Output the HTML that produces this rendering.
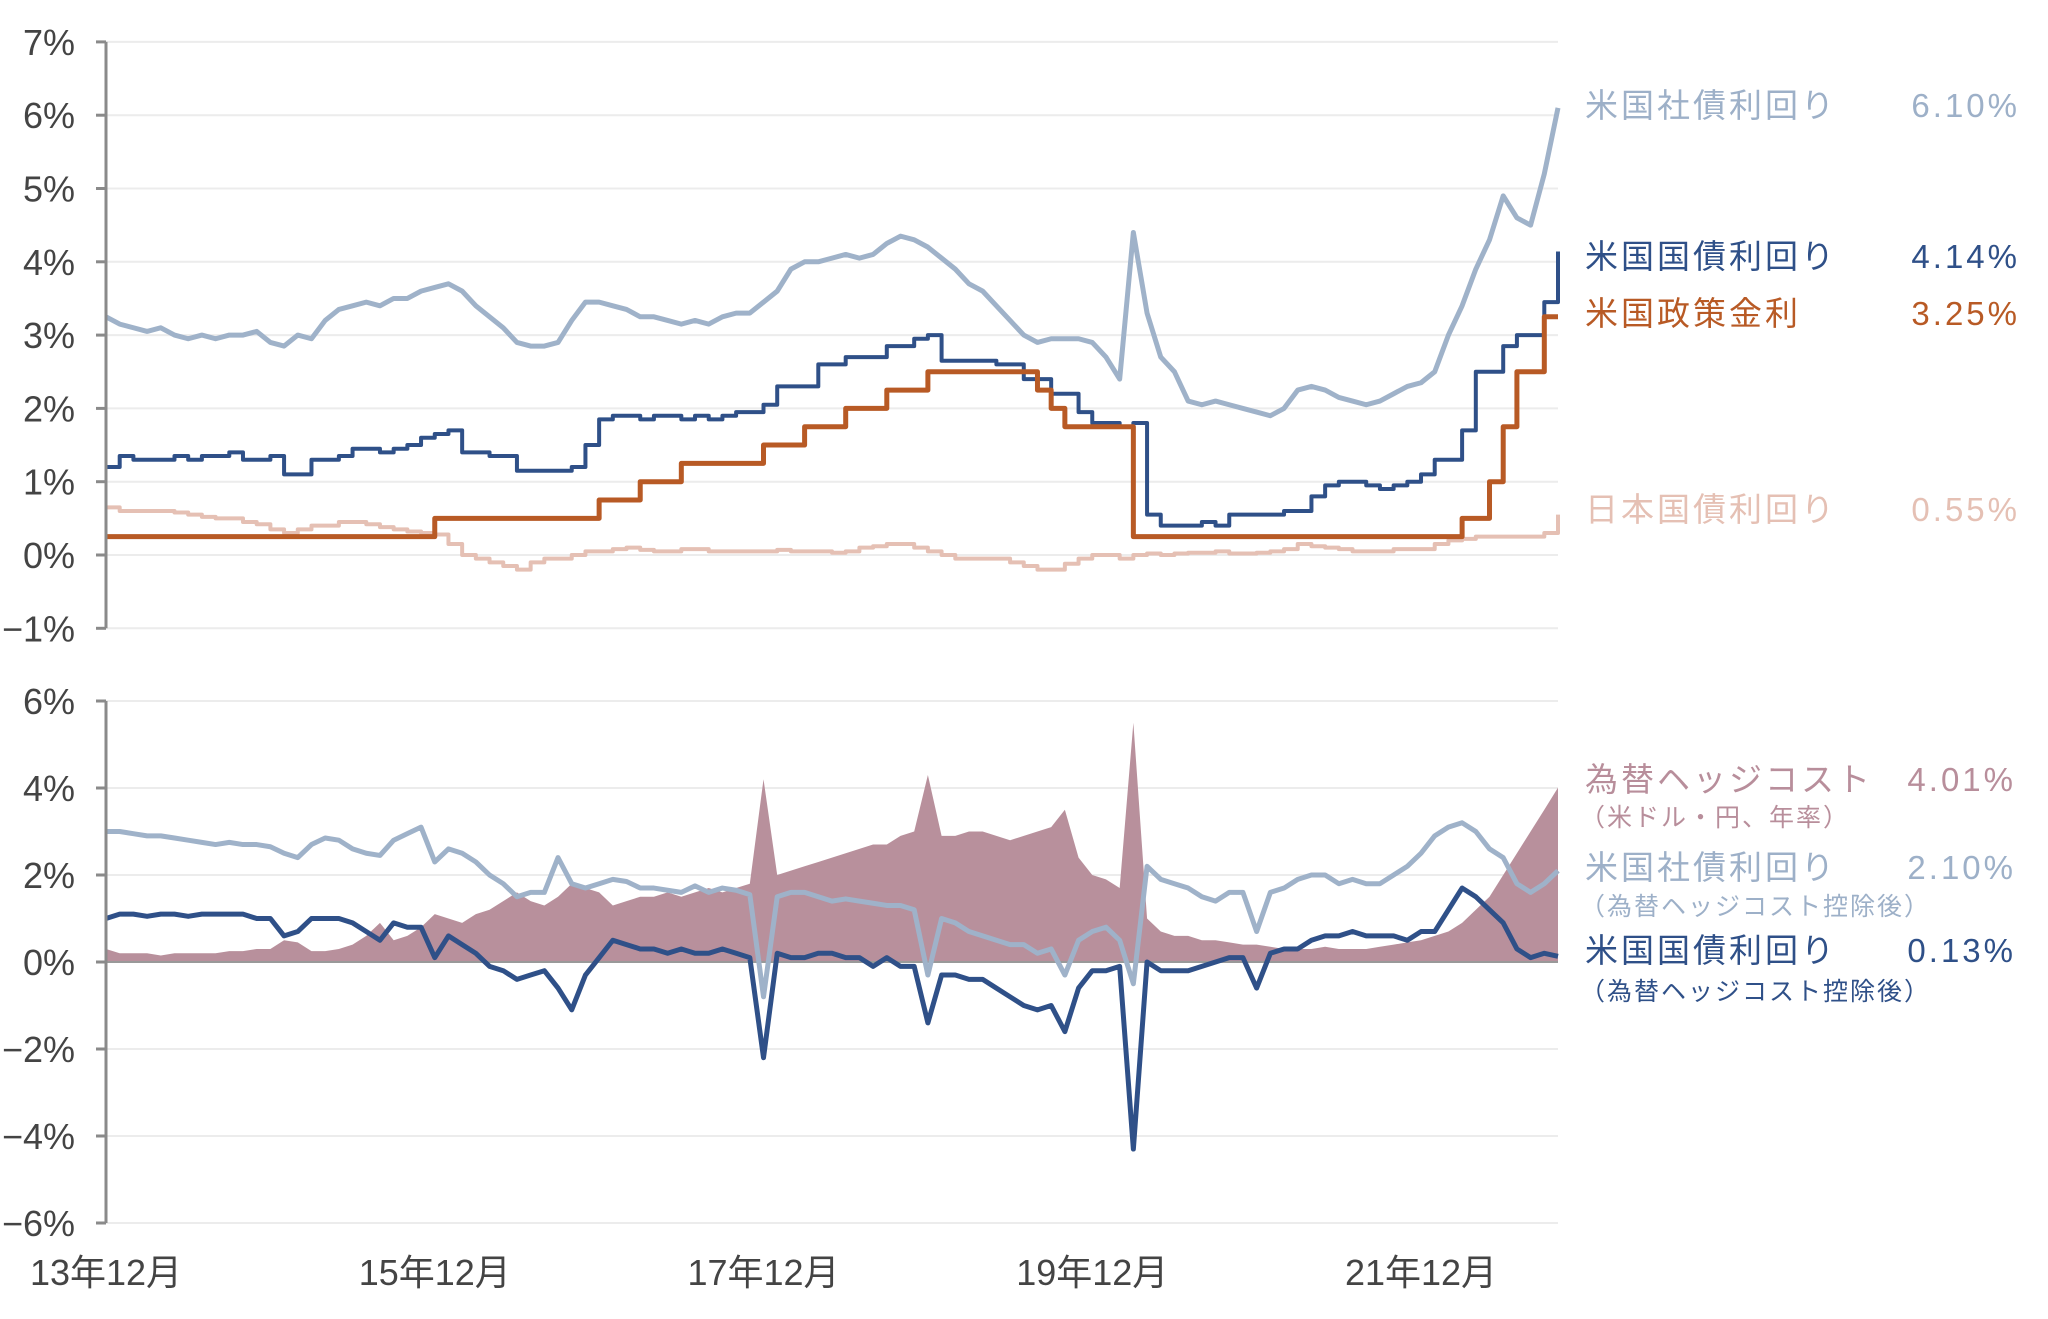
<!DOCTYPE html>
<html><head><meta charset="utf-8">
<style>
html,body{margin:0;padding:0;background:#fff;}
svg{display:block;}
text{font-family:"Liberation Sans","Noto Sans CJK JP",sans-serif;}
</style></head>
<body>
<svg id="chart" width="2048" height="1319" viewBox="0 0 2048 1319" xmlns="http://www.w3.org/2000/svg">
<g id="grid"></g>
<g id="series"></g>
<g id="axes"></g>
<g id="legend">
  <text x="1585" y="117" font-size="33" fill="#9db0c8" letter-spacing="3">米国社債利回り</text>
  <text x="2020" y="117" font-size="33" fill="#9db0c8" text-anchor="end" letter-spacing="3">6.10%</text>
  <text x="1585" y="268" font-size="33" fill="#2f5088" letter-spacing="3">米国国債利回り</text>
  <text x="2020" y="268" font-size="33" fill="#2f5088" text-anchor="end" letter-spacing="3">4.14%</text>
  <text x="1585" y="325" font-size="33" fill="#b85a25" letter-spacing="3">米国政策金利</text>
  <text x="2020" y="325" font-size="33" fill="#b85a25" text-anchor="end" letter-spacing="3">3.25%</text>
  <text x="1585" y="521" font-size="33" fill="#e5c0b4" letter-spacing="3">日本国債利回り</text>
  <text x="2020" y="521" font-size="33" fill="#e5c0b4" text-anchor="end" letter-spacing="3">0.55%</text>

  <text x="1585" y="791" font-size="33" fill="#b88e9b" letter-spacing="3">為替ヘッジコスト</text>
  <text x="2016" y="791" font-size="33" fill="#b88e9b" text-anchor="end" letter-spacing="3">4.01%</text>
  <text x="1580" y="826" font-size="25" fill="#b88e9b" letter-spacing="2">（米ドル・円、年率）</text>
  <text x="1585" y="879" font-size="33" fill="#9db0c8" letter-spacing="3">米国社債利回り</text>
  <text x="2016" y="879" font-size="33" fill="#9db0c8" text-anchor="end" letter-spacing="3">2.10%</text>
  <text x="1580" y="915" font-size="25" fill="#9db0c8" letter-spacing="2">（為替ヘッジコスト控除後）</text>
  <text x="1585" y="962" font-size="33" fill="#2f5088" letter-spacing="3">米国国債利回り</text>
  <text x="2016" y="962" font-size="33" fill="#2f5088" text-anchor="end" letter-spacing="3">0.13%</text>
  <text x="1580" y="1000" font-size="25" fill="#2f5088" letter-spacing="2">（為替ヘッジコスト控除後）</text>
</g>
</svg>
<script>
// monthly, Dec 2013 .. Oct 2022
const corpYield = [3.25,3.15,3.1,3.05,3.1,3.0,2.95,3.0,2.95,3.0,3.0,3.05,
2.9,2.85,3.0,2.95,3.2,3.35,3.4,3.45,3.4,3.5,3.5,3.6,
3.65,3.7,3.6,3.4,3.25,3.1,2.9,2.85,2.85,2.9,3.2,3.45,
3.45,3.4,3.35,3.25,3.25,3.2,3.15,3.2,3.15,3.25,3.3,3.3,
3.45,3.6,3.9,4.0,4.0,4.05,4.1,4.05,4.1,4.25,4.35,4.3,
4.2,4.05,3.9,3.7,3.6,3.4,3.2,3.0,2.9,2.95,2.95,2.95,
2.9,2.7,2.4,4.4,3.3,2.7,2.5,2.1,2.05,2.1,2.05,2.0,
1.95,1.9,2.0,2.25,2.3,2.25,2.15,2.1,2.05,2.1,2.2,2.3,
2.35,2.5,3.0,3.4,3.9,4.3,4.9,4.6,4.5,5.2,6.1];
const treasuryYield = [1.2,1.35,1.3,1.3,1.3,1.35,1.3,1.35,1.35,1.4,1.3,1.3,
1.35,1.1,1.1,1.3,1.3,1.35,1.45,1.45,1.4,1.45,1.5,1.6,
1.65,1.7,1.4,1.4,1.35,1.35,1.15,1.15,1.15,1.15,1.2,1.5,
1.85,1.9,1.9,1.85,1.9,1.9,1.85,1.9,1.85,1.9,1.95,1.95,
2.05,2.3,2.3,2.3,2.6,2.6,2.7,2.7,2.7,2.85,2.85,2.95,
3.0,2.65,2.65,2.65,2.65,2.6,2.6,2.4,2.4,2.2,2.2,1.95,
1.8,1.8,1.75,1.8,0.55,0.4,0.4,0.4,0.45,0.4,0.55,0.55,
0.55,0.55,0.6,0.6,0.8,0.95,1.0,1.0,0.95,0.9,0.95,1.0,
1.1,1.3,1.3,1.7,2.5,2.5,2.85,3.0,3.0,3.45,4.14];
const policyRate = [0.25,0.25,0.25,0.25,0.25,0.25,0.25,0.25,0.25,0.25,0.25,0.25,
0.25,0.25,0.25,0.25,0.25,0.25,0.25,0.25,0.25,0.25,0.25,0.25,
0.5,0.5,0.5,0.5,0.5,0.5,0.5,0.5,0.5,0.5,0.5,0.5,
0.75,0.75,0.75,1.0,1.0,1.0,1.25,1.25,1.25,1.25,1.25,1.25,
1.5,1.5,1.5,1.75,1.75,1.75,2.0,2.0,2.0,2.25,2.25,2.25,
2.5,2.5,2.5,2.5,2.5,2.5,2.5,2.5,2.25,2.0,1.75,1.75,
1.75,1.75,1.75,0.25,0.25,0.25,0.25,0.25,0.25,0.25,0.25,0.25,
0.25,0.25,0.25,0.25,0.25,0.25,0.25,0.25,0.25,0.25,0.25,0.25,
0.25,0.25,0.25,0.5,0.5,1.0,1.75,2.5,2.5,3.25,3.25];
const jgbYield = [0.65,0.6,0.6,0.6,0.6,0.58,0.55,0.52,0.5,0.5,0.45,0.42,
0.35,0.3,0.35,0.4,0.4,0.45,0.45,0.42,0.38,0.35,0.32,0.3,
0.28,0.15,0.0,-0.05,-0.1,-0.15,-0.2,-0.1,-0.05,-0.05,0.0,0.05,
0.05,0.08,0.1,0.07,0.05,0.05,0.08,0.08,0.05,0.05,0.05,0.05,
0.05,0.07,0.05,0.05,0.05,0.03,0.05,0.1,0.12,0.15,0.15,0.1,
0.05,0.0,-0.05,-0.05,-0.05,-0.05,-0.1,-0.15,-0.2,-0.2,-0.12,-0.05,
0.0,0.0,-0.05,0.0,0.02,0.0,0.02,0.03,0.03,0.05,0.02,0.02,
0.03,0.05,0.08,0.15,0.12,0.1,0.08,0.05,0.05,0.05,0.08,0.08,
0.08,0.15,0.2,0.22,0.25,0.25,0.25,0.25,0.25,0.3,0.55];
const hedgeCost = [0.3,0.2,0.2,0.2,0.15,0.2,0.2,0.2,0.2,0.25,0.25,0.3,
0.3,0.5,0.45,0.25,0.25,0.3,0.4,0.6,0.9,0.5,0.6,0.8,
1.1,1.0,0.9,1.1,1.2,1.4,1.6,1.4,1.3,1.5,1.8,1.7,
1.6,1.3,1.4,1.5,1.5,1.6,1.5,1.6,1.7,1.6,1.7,1.8,
4.2,2.0,2.1,2.2,2.3,2.4,2.5,2.6,2.7,2.7,2.9,3.0,
4.3,2.9,2.9,3.0,3.0,2.9,2.8,2.9,3.0,3.1,3.5,2.4,
2.0,1.9,1.7,5.5,1.0,0.7,0.6,0.6,0.5,0.5,0.45,0.4,
0.4,0.35,0.3,0.3,0.3,0.35,0.3,0.3,0.3,0.35,0.4,0.45,
0.5,0.6,0.7,0.9,1.2,1.5,2.0,2.5,3.0,3.5,4.01];
const corpHedged = [3.0,3.0,2.95,2.9,2.9,2.85,2.8,2.75,2.7,2.75,2.7,2.7,
2.65,2.5,2.4,2.7,2.85,2.8,2.6,2.5,2.45,2.8,2.95,3.1,
2.3,2.6,2.5,2.3,2.0,1.8,1.5,1.6,1.6,2.4,1.8,1.7,
1.8,1.9,1.85,1.7,1.7,1.65,1.6,1.75,1.6,1.7,1.65,1.55,
-0.8,1.5,1.6,1.6,1.5,1.4,1.45,1.4,1.35,1.3,1.3,1.2,
-0.3,1.0,0.9,0.7,0.6,0.5,0.4,0.4,0.2,0.3,-0.3,0.5,
0.7,0.8,0.5,-0.5,2.2,1.9,1.8,1.7,1.5,1.4,1.6,1.6,
0.7,1.6,1.7,1.9,2.0,2.0,1.8,1.9,1.8,1.8,2.0,2.2,
2.5,2.9,3.1,3.2,3.0,2.6,2.4,1.8,1.6,1.8,2.1];
const treasuryHedged = [1.0,1.1,1.1,1.05,1.1,1.1,1.05,1.1,1.1,1.1,1.1,1.0,
1.0,0.6,0.7,1.0,1.0,1.0,0.9,0.7,0.5,0.9,0.8,0.8,
0.1,0.6,0.4,0.2,-0.1,-0.2,-0.4,-0.3,-0.2,-0.6,-1.1,-0.3,
0.1,0.5,0.4,0.3,0.3,0.2,0.3,0.2,0.2,0.3,0.2,0.1,
-2.2,0.2,0.1,0.1,0.2,0.2,0.1,0.1,-0.1,0.1,-0.1,-0.1,
-1.4,-0.3,-0.3,-0.4,-0.4,-0.6,-0.8,-1.0,-1.1,-1.0,-1.6,-0.6,
-0.2,-0.2,-0.1,-4.3,0.0,-0.2,-0.2,-0.2,-0.1,0.0,0.1,0.1,
-0.6,0.2,0.3,0.3,0.5,0.6,0.6,0.7,0.6,0.6,0.6,0.5,
0.7,0.7,1.2,1.7,1.5,1.2,0.9,0.3,0.1,0.2,0.13];
const topTicks = [7,6,5,4,3,2,1,0,-1];
const topTickLabels = ["7%","6%","5%","4%","3%","2%","1%","0%","−1%"];
const botTicks = [6,4,2,0,-2,-4,-6];
const botTickLabels = ["6%","4%","2%","0%","−2%","−4%","−6%"];
const xTickMonths = [0,24,48,72,96];
const xTickLabels = ["13年12月","15年12月","17年12月","19年12月","21年12月"];

const NS="http://www.w3.org/2000/svg";
const X0=106, X1=1558, N=corpYield.length;
const xAt = i => X0 + i*(X1-X0)/(N-1);
const yTop = v => 555 - v*73.3;
const yBot = v => 962 - v*43.5;
function mk(tag, attrs, parent){const e=document.createElementNS(NS,tag);for(const k in attrs)e.setAttribute(k,attrs[k]);parent.appendChild(e);return e;}
const grid=document.getElementById('grid'), series=document.getElementById('series'), axes=document.getElementById('axes');

function drawAxis(ticks, labels, yf, name){
  ticks.forEach((t,k)=>{
    const g=mk('line',{x1:X0,x2:X1,y1:yf(t),y2:yf(t),stroke:'#ececec','stroke-width':2},grid);
    
    
    const tk=mk('line',{x1:X0-10,x2:X0,y1:yf(t),y2:yf(t),stroke:'#8a8a8a','stroke-width':3},axes);
    
    
    const lb=mk('text',{x:75,y:yf(t)+13,'font-size':36,fill:'#444','text-anchor':'end'},axes);
    
    
    lb.textContent=labels[k];
  });
  const ax=mk('line',{x1:X0,x2:X0,y1:yf(ticks[0]),y2:yf(ticks[ticks.length-1]),stroke:'#8a8a8a','stroke-width':3},axes);
  
  
}
drawAxis(topTicks, topTickLabels, yTop, 'top-y-axis');
drawAxis(botTicks, botTickLabels, yBot, 'bottom-y-axis');

xTickMonths.forEach((m,k)=>{
  const lb=mk('text',{x:xAt(m),y:1285,'font-size':36,fill:'#444','text-anchor':'middle'},axes);
  
  
  lb.textContent=xTickLabels[k];
});

function linePath(arr, yf, step){
  let d='';
  arr.forEach((v,i)=>{
    if(i===0){d+='M'+xAt(i)+' '+yf(v);}
    else if(step){d+=' H'+xAt(i)+' V'+yf(v);}
    else {d+=' L'+xAt(i)+' '+yf(v);}
  });
  return d;
}
function drawLine(arr, yf, step, color, w, name){
  const p=mk('path',{d:linePath(arr,yf,step),fill:'none',stroke:color,'stroke-width':w,'stroke-linejoin':'round'},series);
  
  
}
let ad='M'+xAt(0)+' '+yBot(0);
hedgeCost.forEach((v,i)=>{ad+=' L'+xAt(i)+' '+yBot(v);});
ad+=' L'+xAt(N-1)+' '+yBot(0)+' Z';
const area=mk('path',{d:ad,fill:'#b8909c',stroke:'none'},series);


const zl=mk('line',{x1:X0,x2:X1,y1:yBot(0),y2:yBot(0),stroke:'#999','stroke-width':2},series);



drawLine(jgbYield, yTop, true, '#e5c0b4', 4, 'jgb-yield-line');
drawLine(corpYield, yTop, false, '#9fb2c9', 5, 'corp-yield-line');
drawLine(treasuryYield, yTop, true, '#2f5088', 4, 'treasury-yield-line');
drawLine(policyRate, yTop, true, '#b85a25', 5, 'policy-rate-line');
drawLine(corpHedged, yBot, false, '#9fb2c9', 5, 'corp-hedged-line');
drawLine(treasuryHedged, yBot, false, '#2f5088', 5, 'treasury-hedged-line');
</script>
</body></html>
